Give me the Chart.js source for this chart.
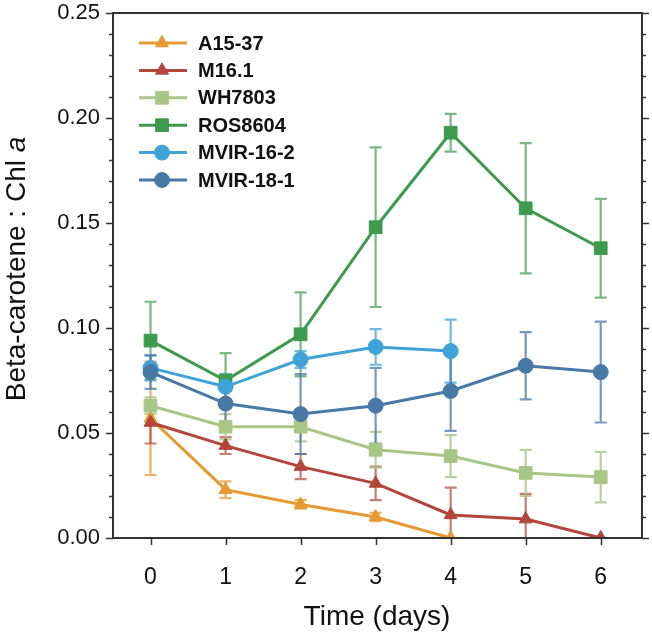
<!DOCTYPE html>
<html>
<head>
<meta charset="utf-8">
<script src="https://cdn.jsdelivr.net/npm/chart.js@4"></script>
<style>
  html, body { margin: 0; padding: 0; background: #fff; }
  #chart { display: block; }
</style>
</head>
<body>
<canvas id="chart" width="652" height="635"></canvas>
<script>
// values (mean and error bar half-length)
var days = [0, 1, 2, 3, 4, 5, 6];
var seriesNames = ['A15-37', 'M16.1', 'WH7803', 'ROS8604', 'MVIR-16-2', 'MVIR-18-1'];

var a1537 = [0.057, 0.023, 0.016, 0.010, 0.000];
var a1537Err = [0.027, 0.004, 0.002, 0.002, 0];
var m161 = [0.055, 0.044, 0.034, 0.026, 0.011, 0.009, 0.000];
var m161Err = [0.010, 0.004, 0.006, 0.008, 0.013, 0.012, 0];
var wh7803 = [0.063, 0.053, 0.053, 0.042, 0.039, 0.031, 0.029];
var wh7803Err = [0.004, 0.006, 0.007, 0.0085, 0.010, 0.011, 0.012];
var ros8604 = [0.094, 0.075, 0.097, 0.148, 0.193, 0.157, 0.138];
var ros8604Err = [0.0185, 0.013, 0.020, 0.038, 0.009, 0.031, 0.0235];
var mvir162 = [0.081, 0.072, 0.085, 0.091, 0.089];
var mvir162Err = [0.006, 0.006, 0.004, 0.0085, 0.015];
var mvir181 = [0.079, 0.064, 0.059, 0.063, 0.070, 0.082, 0.079];
var mvir181Err = [0.008, 0.010, 0.019, 0.018, 0.019, 0.016, 0.024];

var yTicks = [0, 0.05, 0.10, 0.15, 0.20, 0.25];

var colors = ['#E59A32', '#B3453A', '#A8C686', '#3E9A4D', '#3FA3D8', '#4878A6'];
var errColors = ['rgba(229,154,50,0.75)', 'rgba(179,69,58,0.7)', 'rgba(168,198,134,0.8)',
                 'rgba(62,154,77,0.7)', 'rgba(63,163,216,0.75)', 'rgba(72,120,166,0.75)'];
var shapes = ['triangle', 'triangle', 'rect', 'rect', 'circle', 'circle'];
var radii = [7.5, 7.5, 9, 9, 7.5, 7.5];

var allValues = [a1537, m161, wh7803, ros8604, mvir162, mvir181];
var allErrors = [a1537Err, m161Err, wh7803Err, ros8604Err, mvir162Err, mvir181Err];

function toPoints(vals) {
    return vals.map(function (v, i) { return { x: days[i], y: v }; });
}

var datasets = seriesNames.map(function (name, i) {
    return {
        label: name,
        data: toPoints(allValues[i]),
        errors: allErrors[i],
        errColor: errColors[i],
        borderColor: colors[i],
        backgroundColor: colors[i],
        pointStyle: shapes[i],
        pointRadius: radii[i],
        pointHoverRadius: radii[i],
        pointBorderWidth: 1,
        borderWidth: 3,
        tension: 0,
        order: seriesNames.length - i
    };
});

var errorBars = {
    id: 'errorBars',
    beforeDatasetsDraw: function (chart) {
        var ctx = chart.ctx, xs = chart.scales.x, ys = chart.scales.y, a = chart.chartArea;
        ctx.save();
        ctx.beginPath();
        ctx.rect(a.left, a.top, a.right - a.left, a.bottom - a.top + 1);
        ctx.clip();
        chart.data.datasets.forEach(function (ds) {
            ctx.strokeStyle = ds.errColor;
            ctx.lineWidth = 2.2;
            ds.data.forEach(function (p, i) {
                var e = ds.errors[i];
                if (!e) return;
                var x = xs.getPixelForValue(p.x);
                var top = ys.getPixelForValue(p.y + e);
                var bot = ys.getPixelForValue(p.y - e);
                ctx.beginPath();
                ctx.moveTo(x, top); ctx.lineTo(x, bot);
                ctx.moveTo(x - 6, top); ctx.lineTo(x + 6, top);
                ctx.moveTo(x - 6, bot); ctx.lineTo(x + 6, bot);
                ctx.stroke();
            });
        });
        ctx.restore();
    }
};

var frame = {
    id: 'frame',
    afterDraw: function (chart) {
        var ctx = chart.ctx, xs = chart.scales.x, ys = chart.scales.y, a = chart.chartArea;
        ctx.save();
        ctx.strokeStyle = '#333';
        ctx.lineWidth = 2;
        ctx.strokeRect(a.left, a.top, a.right - a.left, a.bottom - a.top);
        ctx.lineWidth = 1.5;
        ctx.beginPath();
        for (var k = 0; k <= 25; k++) {
            var y = Math.round(ys.getPixelForValue(k / 100)) + 0.5;
            var len = (k % 5 === 0) ? 7 : 4;
            ctx.moveTo(a.left, y); ctx.lineTo(a.left - len, y);
            ctx.moveTo(a.right, y); ctx.lineTo(a.right + len, y);
        }
        days.forEach(function (d) {
            var x = Math.round(xs.getPixelForValue(d)) + 0.5;
            ctx.moveTo(x, a.bottom); ctx.lineTo(x, a.bottom + 7);
        });
        ctx.stroke();

        // axis titles
        ctx.fillStyle = '#111';
        ctx.textBaseline = 'middle';
        ctx.textAlign = 'center';
        ctx.font = '28px "Liberation Sans", Arial, sans-serif';
        ctx.fillText('Time (days)', 377, 617);

        ctx.translate(17, 269);
        ctx.rotate(-Math.PI / 2);
        var part1 = 'Beta-carotene : Chl ';
        var w1 = ctx.measureText(part1).width;
        ctx.font = 'italic 28px "Liberation Sans", Arial, sans-serif';
        var w2 = ctx.measureText('a').width;
        var start = -(w1 + w2) / 2;
        ctx.textAlign = 'left';
        ctx.font = '28px "Liberation Sans", Arial, sans-serif';
        ctx.fillText(part1, start, 0);
        ctx.font = 'italic 28px "Liberation Sans", Arial, sans-serif';
        ctx.fillText('a', start + w1, 0);
        ctx.restore();

        // legend inside the plot
        ctx.save();
        ctx.font = 'bold 20px "Liberation Sans", Arial, sans-serif';
        ctx.textBaseline = 'middle';
        ctx.textAlign = 'left';
        chart.data.datasets.forEach(function (ds, i) {
            var y = 43 + i * 27.4;
            ctx.strokeStyle = ds.borderColor;
            ctx.lineWidth = 3;
            ctx.beginPath();
            ctx.moveTo(139, y); ctx.lineTo(187, y);
            ctx.stroke();
            ctx.fillStyle = ds.backgroundColor;
            ctx.lineWidth = 1;
            Chart.helpers.drawPoint(ctx, { pointStyle: ds.pointStyle, radius: ds.pointRadius, borderWidth: 1 }, 162, y);
            ctx.fillStyle = '#111';
            ctx.fillText(ds.label, 198, y + 1);
        });
        ctx.restore();
    }
};

new Chart(document.getElementById('chart').getContext('2d'), {
    type: 'line',
    data: { datasets: datasets },
    options: {
        responsive: false,
        animation: false,
        devicePixelRatio: 1,
        layout: { padding: { top: 13, right: 10, left: 0, bottom: 0 } },
        plugins: { legend: { display: false }, tooltip: { enabled: false } },
        scales: {
            x: {
                type: 'linear',
                min: -0.5,
                max: 6.55,
                afterBuildTicks: function (scale) {
                    scale.ticks = days.map(function (d) { return { value: d }; });
                },
                afterFit: function (scale) {
                    scale.height = 97;
                    scale.paddingLeft = 0;
                    scale.paddingRight = 0;
                },
                grid: { display: false, drawTicks: false },
                border: { display: false },
                ticks: {
                    padding: 26,
                    color: '#111',
                    font: { family: '"Liberation Sans", Arial, sans-serif', size: 23 },
                    callback: function (v) { return String(v); }
                }
            },
            y: {
                min: 0,
                max: 0.25,
                afterBuildTicks: function (scale) {
                    scale.ticks = yTicks.map(function (v) { return { value: v }; });
                },
                afterFit: function (scale) {
                    scale.width = 113;
                    scale.paddingTop = 0;
                    scale.paddingBottom = 0;
                },
                grid: { display: false, drawTicks: false },
                border: { display: false },
                ticks: {
                    padding: 13,
                    color: '#111',
                    font: { family: '"Liberation Sans", Arial, sans-serif', size: 22 },
                    callback: function (v) { return v.toFixed(2); }
                }
            }
        }
    },
    plugins: [errorBars, frame]
});
</script>
</body>
</html>
